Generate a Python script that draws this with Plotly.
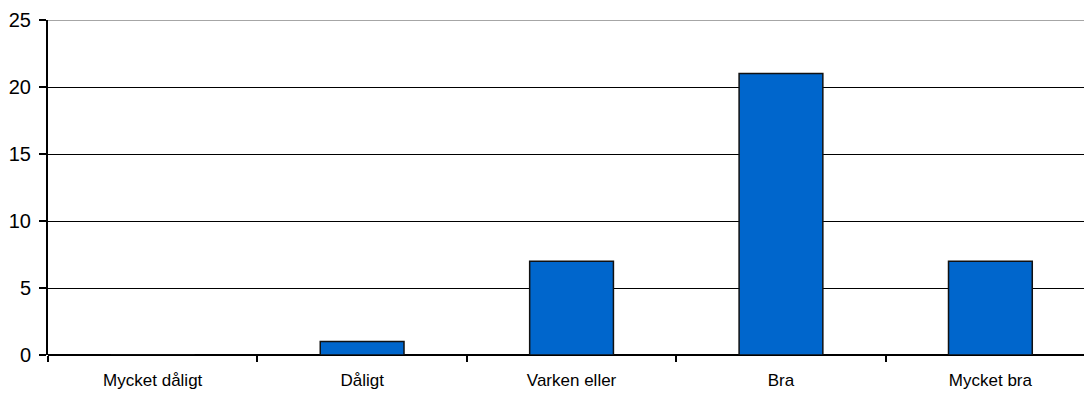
import plotly.graph_objects as go

categories = ["Mycket dåligt", "Dåligt", "Varken eller", "Bra", "Mycket bra"]
counts = [0, 1, 7, 21, 7]
y_ticks = [0, 5, 10, 15, 20, 25]

fig = go.Figure()
fig.add_trace(go.Bar(
    x=categories,
    y=counts,
    width=0.4,
    marker=dict(color="#0066CC", line=dict(color="#111111", width=1.5)),
))

# Top boundary line at 25 is lighter than the inner gridlines
fig.add_shape(type="line", xref="paper", yref="y", x0=0, x1=1, y0=25, y1=25,
              line=dict(color="#888888", width=1.5), layer="above")

fig.update_layout(
    width=1084, height=396,
    margin=dict(l=48, r=0, t=20, b=41),
    paper_bgcolor="white", plot_bgcolor="white",
    showlegend=False,
    bargap=0.6,
    font=dict(family="Liberation Sans, Arial, sans-serif", color="black"),
    xaxis=dict(
        type="category",
        range=[-0.5, 4.447],
        tickson="boundaries",
        ticks="outside", ticklen=6, tickwidth=1.5, tickcolor="black",
        showline=False, showgrid=False,
        tickfont=dict(size=17),
        ticklabelstandoff=13,
    ),
    yaxis=dict(
        range=[0, 25],
        tickvals=y_ticks,
        ticks="outside", ticklen=7, tickwidth=1.5, tickcolor="black",
        showline=True, linecolor="black", linewidth=2,
        showgrid=True, gridcolor="black", gridwidth=1.2,
        zeroline=True, zerolinecolor="black", zerolinewidth=2,
        tickfont=dict(size=20),
        ticklabelstandoff=4,
    ),
)

fig.write_html("out.html")
